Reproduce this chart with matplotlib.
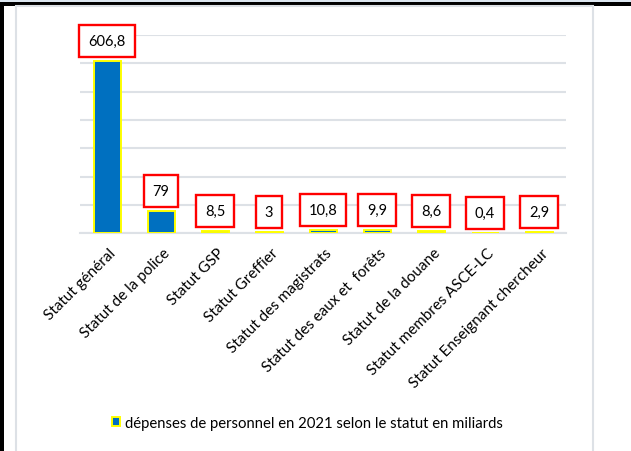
# depenses de personnel 2021 par statut - bar chart

import matplotlib
matplotlib.use("Agg")
import matplotlib.pyplot as plt
from matplotlib.patches import Rectangle, Patch
from matplotlib.transforms import ScaledTranslation

plt.rcParams['font.family'] = ['Lato', 'DejaVu Sans']

statuts = ['Statut général', 'Statut de la police', 'Statut GSP', 'Statut Greffier',
           'Statut des magistrats', 'Statut des eaux et  forêts', 'Statut de la douane',
           'Statut membres ASCE-LC', 'Statut Enseignant chercheur']
depenses = [606.8, 79, 8.5, 3, 10.8, 9.9, 8.6, 0.4, 2.9]
etiquettes = ['606,8', '79', '8,5', '3', '10,8', '9,9', '8,6', '0,4', '2,9']
legende = 'dépenses de personnel en 2021 selon le statut en miliards'

W, H = 631, 452
fig = plt.figure(figsize=(W / 100, H / 100), dpi=100)

# screenshot borders around the chart
def px_rect(x0, y0, x1, y1, **kw):
    fig.patches.append(Rectangle((x0 / W, 1 - y1 / H), (x1 - x0) / W, (y1 - y0) / H,
                                 transform=fig.transFigure, figure=fig, **kw))

px_rect(0, 0, W, 3, facecolor='#dce6f0', edgecolor='none')
px_rect(0, 3, W, 6.5, facecolor='black', edgecolor='none')
px_rect(0, 3, 4, H, facecolor='black', edgecolor='none')
px_rect(15.5, 7, 593, H + 10, facecolor='none', edgecolor='#dde1e6', linewidth=1.5)

ax = fig.add_axes([80 / W, (H - 234.3) / H, 486 / W, (234.3 - 36) / H])
x = range(len(statuts))
bars = ax.bar(x, depenses, width=0.5, color='#0070c0', edgecolor='#ffff00', linewidth=1.4, zorder=3)

for xi, v, lab in zip(x, depenses, etiquettes):
    ax.annotate(lab, (xi, v), xytext=(0, 9.5), textcoords='offset points',
                ha='center', va='bottom', fontsize=10.5, color='black', zorder=5,
                bbox=dict(boxstyle='square,pad=0.62', facecolor='white',
                          edgecolor='#ff0000', linewidth=1.7))

ax.set_xlim(-0.5, len(statuts) - 0.5)
ax.set_ylim(0, 700)
ax.set_yticks(range(0, 701, 100))
ax.yaxis.grid(True, color='#dde1e6', linewidth=1.5, zorder=0)
ax.tick_params(axis='y', left=False, labelleft=False)
ax.tick_params(axis='x', length=0, pad=6)
ax.set_xticks(list(x))
ax.set_xticklabels(statuts, rotation=45, ha='right', rotation_mode='anchor', fontsize=11)
shift = ScaledTranslation(2 / 100, -4 / 100, fig.dpi_scale_trans)
for t in ax.get_xticklabels():
    t.set_transform(t.get_transform() + shift)
for s in ['top', 'right', 'left']:
    ax.spines[s].set_visible(False)
ax.spines['bottom'].set_color('#dde1e6')
ax.spines['bottom'].set_linewidth(1.5)

handle = Patch(facecolor='#0070c0', edgecolor='#ffff00', linewidth=1.4)
fig.legend([handle], [legende], loc='center', bbox_to_anchor=(0.487, 0.062),
           frameon=False, fontsize=10.7, handlelength=0.55, handleheight=0.55, handletextpad=0.3)

fig.savefig('out.png', dpi=100)
